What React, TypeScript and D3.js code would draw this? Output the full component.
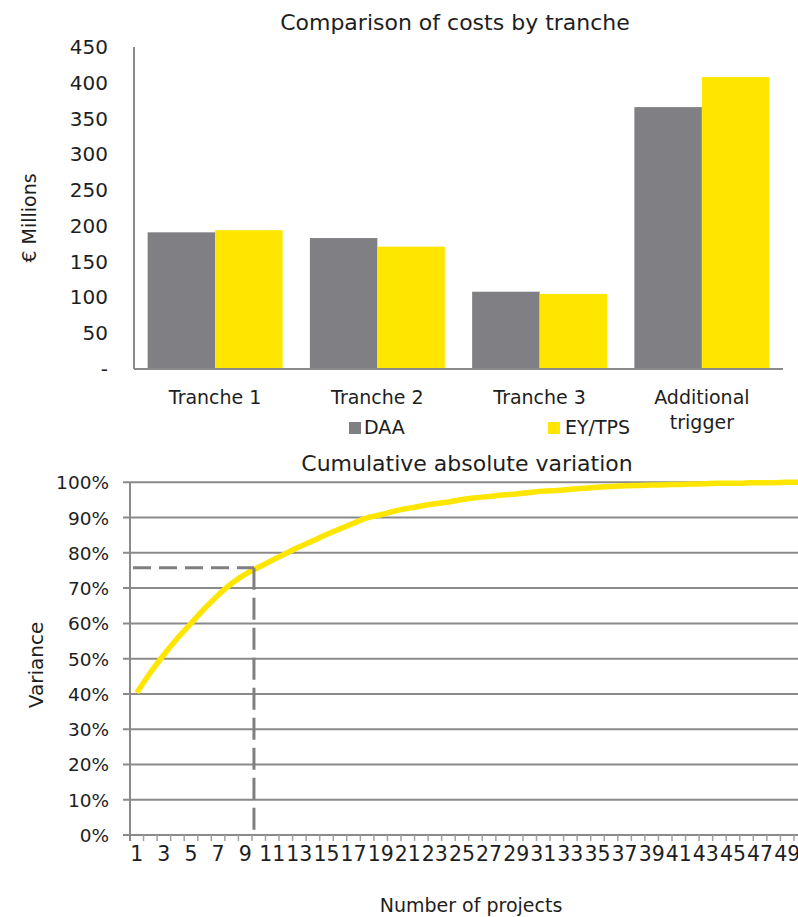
import React from 'react';
import * as d3 from 'd3';

// top chart: costs by tranche (€ millions)
const tranches = ['Tranche 1', 'Tranche 2', 'Tranche 3', 'Additional trigger'];
const daaCosts = [191, 183, 108, 366];
const eyTpsCosts = [194, 171, 105, 408];
const costTicks = [0, 50, 100, 150, 200, 250, 300, 350, 400, 450];

// bottom chart: cumulative absolute variation per project
const cumulativeShare = [
    0.403, 0.46, 0.511, 0.558, 0.6, 0.642, 0.68, 0.713, 0.739, 0.759,
    0.779, 0.798, 0.817, 0.834, 0.852, 0.868, 0.884, 0.899, 0.908, 0.918,
    0.926, 0.933, 0.939, 0.944, 0.951, 0.956, 0.96, 0.964, 0.967, 0.971,
    0.975, 0.977, 0.98, 0.983, 0.986, 0.988, 0.99, 0.991, 0.992, 0.993,
    0.994, 0.995, 0.996, 0.997, 0.997, 0.998, 0.999, 0.999, 1.0, 1.0,
];
const shareTicks = [0, 0.1, 0.2, 0.3, 0.4, 0.5, 0.6, 0.7, 0.8, 0.9, 1.0];
const refShare = 0.758; // dashed marker
const refProjects = 9;

const GREY = '#807f83';
const YELLOW = '#ffe600';
const AXIS = '#8a8a8a';
const TEXT = '#1e1e1e';
const FONT = '"DejaVu Sans", Verdana, sans-serif';

function CostChart() {
    const left = 134, right = 783, top = 47, bottom = 369;
    const x = d3.scaleBand<string>().domain(tranches).range([left, right])
        .paddingInner(0.168).paddingOuter(0.084);
    const inner = d3.scaleBand<string>().domain(['DAA', 'EY/TPS']).range([0, x.bandwidth()]);
    const y = d3.scaleLinear().domain([0, 450]).range([bottom, top]);

    return (
        <g fontFamily={FONT} fill={TEXT}>
            <text x={455} y={30} fontSize={22} textAnchor="middle">Comparison of costs by tranche</text>
            <text transform={`translate(36,${218}) rotate(-90)`} fontSize={19} textAnchor="middle">€ Millions</text>
            {costTicks.map(t => (
                <text key={t} x={108} y={y(t) + 7} fontSize={20} textAnchor="end">{t === 0 ? '-' : t}</text>
            ))}
            {tranches.map((c, i) => (
                <g key={c}>
                    <rect x={x(c)! + inner('DAA')!} y={y(daaCosts[i])} width={inner.bandwidth()}
                          height={y(0) - y(daaCosts[i])} fill={GREY} />
                    <rect x={x(c)! + inner('EY/TPS')!} y={y(eyTpsCosts[i])} width={inner.bandwidth()}
                          height={y(0) - y(eyTpsCosts[i])} fill={YELLOW} />
                </g>
            ))}
            <line x1={left} x2={left} y1={top} y2={bottom} stroke={AXIS} strokeWidth={2} />
            <line x1={left} x2={right} y1={bottom} y2={bottom} stroke={AXIS} strokeWidth={2} />
            {tranches.map(c => {
                const cx = x(c)! + x.bandwidth() / 2;
                const words = c === 'Additional trigger' ? ['Additional', 'trigger'] : [c];
                return words.map((w, k) => (
                    <text key={c + k} x={cx} y={404 + k * 25} fontSize={19} textAnchor="middle">{w}</text>
                ));
            })}
            <rect x={349} y={422} width={12} height={12} fill={GREY} />
            <text x={364} y={434} fontSize={19}>DAA</text>
            <rect x={548} y={422} width={12} height={12} fill={YELLOW} />
            <text x={565} y={434} fontSize={19}>EY/TPS</text>
        </g>
    );
}

function VariationChart() {
    const projects = cumulativeShare.map((_, i) => String(i + 1));
    const left = 130, right = 807.5, top = 482.3, bottom = 835;
    const x = d3.scaleBand<string>().domain(projects).range([left, right]);
    const y = d3.scaleLinear().domain([0, 1]).range([bottom, top]);
    const line = d3.line<number>()
        .x((_, i) => x(projects[i])! + x.bandwidth() / 2)
        .y(d => y(d))
        .curve(d3.curveMonotoneX);
    const refX = x(String(refProjects + 1))!;

    return (
        <g fontFamily={FONT} fill={TEXT}>
            <text x={467} y={471} fontSize={22} textAnchor="middle">Cumulative absolute variation</text>
            <text transform={`translate(43,665) rotate(-90)`} fontSize={20} textAnchor="middle">Variance</text>
            {shareTicks.map(t => (
                <g key={t}>
                    <line x1={left - 7} x2={800} y1={y(t)} y2={y(t)} stroke={AXIS} strokeWidth={2} />
                    <text x={109} y={y(t) + 7} fontSize={18.5} textAnchor="end">{`${Math.round(t * 100)}%`}</text>
                </g>
            ))}
            <line x1={left} x2={left} y1={top} y2={bottom + 6} stroke={AXIS} strokeWidth={2} />
            {projects.map(p => (
                <line key={p} x1={x(p)! + x.bandwidth()} x2={x(p)! + x.bandwidth()} y1={bottom} y2={bottom + 6}
                      stroke="#a0a0a0" strokeWidth={1.5} />
            ))}
            {projects.filter((_, i) => i % 2 === 0).map(p => (
                <text key={p} x={x(p)! + x.bandwidth() / 2} y={861} fontSize={20.5} textAnchor="middle">{p}</text>
            ))}
            <text x={471} y={912} fontSize={19} textAnchor="middle">Number of projects</text>
            <path d={line(cumulativeShare)!} fill="none" stroke={YELLOW} strokeWidth={5.5} strokeLinejoin="round" />
            <line x1={left + 3} x2={refX + 2} y1={y(refShare)} y2={y(refShare)}
                  stroke="#7f7f7f" strokeWidth={3} strokeDasharray="18,8" />
            <line x1={refX + 2} x2={refX + 2} y1={y(refShare)} y2={bottom}
                  stroke="#7f7f7f" strokeWidth={3} strokeDasharray="22,8" />
        </g>
    );
}

export default function App() {
    return (
        <div style={{ position: 'absolute', left: 0, top: 0 }}>
            <svg width={798} height={917} style={{ display: 'block', background: '#fff' }}>
                <CostChart />
                <VariationChart />
            </svg>
        </div>
    );
}
